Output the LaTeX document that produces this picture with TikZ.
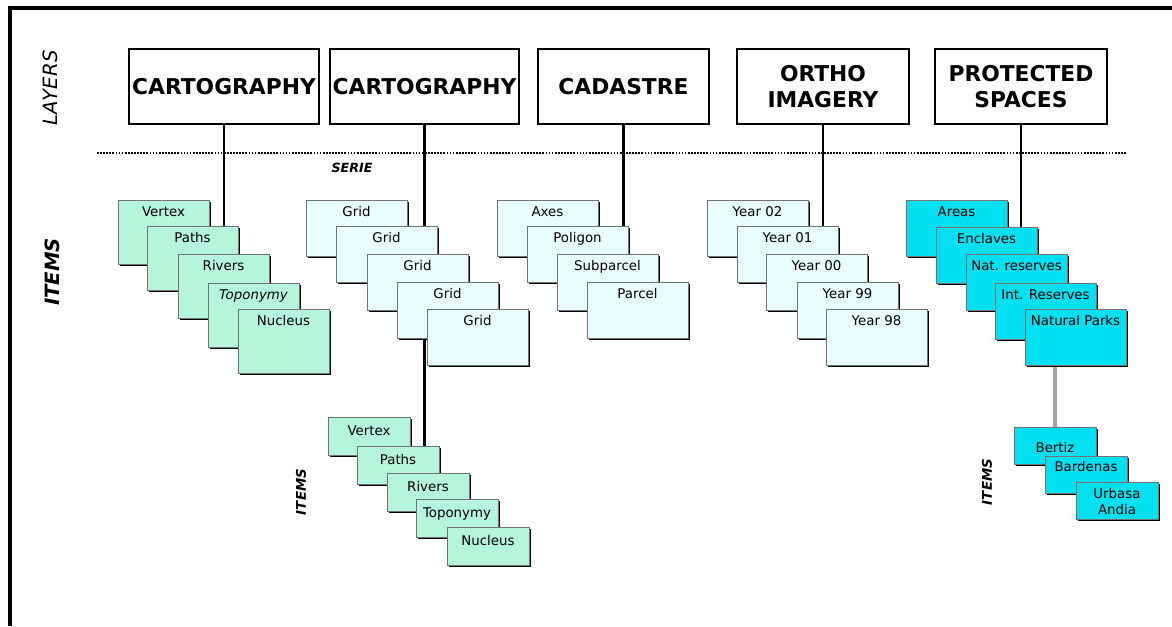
\documentclass[tikz,border=0pt]{standalone}
\usepackage{fontspec}
\setmainfont{DejaVu Sans}
\usetikzlibrary{shadows,backgrounds}
\definecolor{MintItem}{HTML}{B4F5DC}
\definecolor{PaleItem}{HTML}{E8FDFD}
\definecolor{CyanItem}{HTML}{00E0F0}
\newcommand\pxu{0.025cm}
\tikzset{
  % Layer box
  LB/.style={rectangle,draw,line width=1.4pt,fill=white,anchor=north west,
             inner sep=1pt,align=center,minimum height=75*\pxu,
             font=\fontsize{15.5}{19}\selectfont\bfseries},
  % Base item box
  IB/.style={rectangle,draw=black!55,line width=0.5pt,anchor=north west,
             inner sep=0pt,outer sep=0pt,
             drop shadow={shadow xshift=1.7pt,shadow yshift=-1.7pt,
                          fill=black,opacity=1}},
  % Item variants
  iM/.style={IB,fill=MintItem,minimum width=91*\pxu,minimum height=64*\pxu},
  iP/.style={IB,fill=PaleItem,minimum width=101*\pxu,minimum height=56*\pxu},
  iC/.style={IB,fill=CyanItem,minimum width=101*\pxu,minimum height=56*\pxu},
  sM/.style={IB,fill=MintItem,minimum width=82*\pxu,minimum height=38*\pxu},
  sC/.style={IB,fill=CyanItem,minimum width=82*\pxu,minimum height=37*\pxu},
  % Item texts
  tX/.style={anchor=north,inner sep=0pt,align=center,
             font=\fontsize{9.5}{11.3}\selectfont},
  tB/.style={tX,yshift=-4.3pt},
  tS/.style={tX,yshift=-5.7pt},
  % Side titles
  side/.style={rotate=90,font=\fontsize{14}{16}\selectfont\itshape},
  tag/.style={font=\fontsize{9}{11}\selectfont\bfseries\itshape},
  % Connectors
  cn/.style={line width=1.9pt},
  cg/.style={line width=2.3pt,draw=black!35}
}
\begin{document}
\begin{tikzpicture}[x=0.025cm,y=-0.025cm]
  \useasboundingbox (0,0) rectangle (1172,626);
  % frame and separator
  \draw[line width=2.5pt] (10,626) -- (10,8) -- (1172,8);
  \draw[line width=1.2pt,densely dotted] (97,153) -- (1127,153);

  \node[side] (layers) at (50,88) {LAYERS};
  \node[side,font=\fontsize{14}{16}\selectfont\bfseries\itshape] (items) at (52,272) {ITEMS};
  \node[tag] (serie) at (352,168) {SERIE};

  % layers
  \node[LB,minimum width=190*\pxu] (lay1) at (128,48) {CARTOGRAPHY};
  \node[LB,minimum width=189*\pxu] (lay2) at (329,48) {CARTOGRAPHY};
  \node[LB,minimum width=171*\pxu] (lay3) at (537,48) {CADASTRE};
  \node[LB,minimum width=172*\pxu] (lay4) at (736,48) {ORTHO\\IMAGERY};
  \node[LB,minimum width=172*\pxu] (lay5) at (934,48) {PROTECTED\\SPACES};

  % cartography items
  \node[iM,label={[tB]north:Vertex}] (cv1) at (118,200) {};
  \node[iM,label={[tB]north:Paths}] (cv2) at (147,226) {};
  \node[iM,label={[tB]north:Rivers}] (cv3) at (178,254) {};
  \node[iM,label={[tB,font=\fontsize{9.5}{11.3}\selectfont\itshape]north:Toponymy}] (cv4) at (208,283) {};
  \node[iM,label={[tB]north:Nucleus}] (cv5) at (238,309) {};

  % grid series
  \node[iP,label={[tB]north:Grid}] (gr1) at (306,200) {};
  \node[iP,label={[tB]north:Grid}] (gr2) at (336,226) {};
  \node[iP,label={[tB]north:Grid}] (gr3) at (367,254) {};
  \node[iP,label={[tB]north:Grid}] (gr4) at (397,282) {};
  \node[iP,label={[tB]north:Grid}] (gr5) at (427,309) {};

  % cadastre items
  \node[iP,label={[tB]north:Axes}] (ax1) at (497,200) {};
  \node[iP,label={[tB]north:Poligon}] (ax2) at (527,226) {};
  \node[iP,label={[tB]north:Subparcel}] (ax3) at (557,254) {};
  \node[iP,label={[tB]north:Parcel}] (ax4) at (587,282) {};

  % ortho imagery series
  \node[iP,label={[tB]north:Year 02}] (yr1) at (707,200) {};
  \node[iP,label={[tB]north:Year 01}] (yr2) at (737,226) {};
  \node[iP,label={[tB]north:Year 00}] (yr3) at (766,254) {};
  \node[iP,label={[tB]north:Year 99}] (yr4) at (797,282) {};
  \node[iP,label={[tB]north:Year 98}] (yr5) at (826,309) {};

  % protected spaces items
  \node[iC,label={[tB]north:Areas}] (ps1) at (906,200) {};
  \node[iC,label={[tB]north:Enclaves}] (ps2) at (936,227) {};
  \node[iC,label={[tB]north:Nat. reserves}] (ps3) at (966,254) {};
  \node[iC,label={[tB]north:Int. Reserves}] (ps4) at (995,283) {};
  \node[iC,label={[tB]north:Natural Parks}] (ps5) at (1025,309) {};

  % items of the grid
  \node[sM,label={[tS]north:Vertex}] (sv1) at (328,417) {};
  \node[sM,label={[tS]north:Paths}] (sv2) at (357,446) {};
  \node[sM,label={[tS]north:Rivers}] (sv3) at (387,473) {};
  \node[sM,label={[tS]north:Toponymy}] (sv4) at (416,499) {};
  \node[sM,label={[tS]north:Nucleus}] (sv5) at (447,527) {};
  \node[tag,rotate=90,font=\fontsize{9.5}{11}\selectfont\bfseries\itshape] (items2) at (301,492) {ITEMS};

  % items of the natural parks
  \node[sC,label={[tX,yshift=-10.7pt]north:Bertiz}] (bz) at (1014,427) {};
  \node[sC,label={[tX,yshift=-3.6pt]north:Bardenas}] (bd) at (1045,456) {};
  \node[sC,label={[tX,yshift=-4.3pt]north:Urbasa\\Andia}] (ua) at (1076,482) {};
  \node[tag,rotate=90,font=\fontsize{9.5}{11}\selectfont\bfseries\itshape] (items5) at (987,482) {ITEMS};

  \begin{scope}[on background layer]
    \draw[cn] (lay1.south) -- (lay1.south |- cv2.north);
    \draw[cn] (lay2.south) -- (lay2.south |- sv2.north);
    \draw[cn] (lay3.south) -- (lay3.south |- ax2.north);
    \draw[cn] (lay4.south) -- (lay4.south |- yr2.north);
    \draw[cn] (lay5.south) -- (lay5.south |- ps2.north);
    \draw[cg] (bz.north) -- (bz.north |- ps5.south);
  \end{scope}
\end{tikzpicture}
\end{document}
